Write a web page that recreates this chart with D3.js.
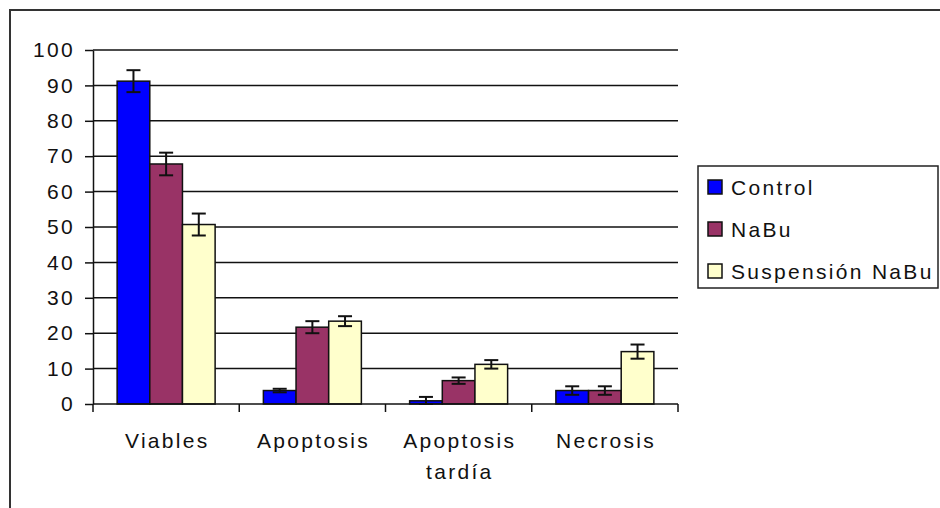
<!DOCTYPE html>
<html>
<head>
<meta charset="utf-8">
<script src="https://cdn.jsdelivr.net/npm/d3@7"></script>
<style>
  html, body { margin: 0; padding: 0; background: #fff; }
  svg { display: block; }
  text { font-family: "Liberation Sans", Arial, sans-serif; fill: #111; }
</style>
</head>
<body>
<svg id="chart" width="940" height="508"></svg>
<script>
// Categories (x axis), each label may wrap onto several lines
const categories = ["Viables", "Apoptosis", "Apoptosis tardía", "Necrosis"];
const categoryLines = [["Viables"], ["Apoptosis"], ["Apoptosis", "tardía"], ["Necrosis"]];

// Series names and colours
const seriesNames = ["Control", "NaBu", "Suspensión NaBu"];
const seriesColors = ["#0000ff", "#993366", "#ffffcc"];

// Mean percentages per series, in category order
const controlValues = [91.2, 3.8, 0.9, 3.8];
const nabuValues = [67.8, 21.7, 6.6, 3.8];
const suspensionValues = [50.7, 23.4, 11.2, 14.8];

// Error (± half-range) per series, in category order
const controlErrors = [3.1, 0.5, 1.1, 1.2];
const nabuErrors = [3.2, 1.7, 0.9, 1.2];
const suspensionErrors = [3.1, 1.4, 1.2, 2.0];

// Y axis ticks
const yTicks = [0, 10, 20, 30, 40, 50, 60, 70, 80, 90, 100];

const seriesValues = [controlValues, nabuValues, suspensionValues];
const seriesErrors = [controlErrors, nabuErrors, suspensionErrors];

const FONT_SIZE = 21;
const LETTER_SPACING = 2.3;

const svg = d3.select("#chart");

// Outer chart frame
svg.append("rect")
  .attr("x", 10).attr("y", 10)
  .attr("width", 940).attr("height", 510)
  .attr("fill", "#fff")
  .attr("stroke", "#333").attr("stroke-width", 2);

const plot = { left: 93, right: 678, top: 50, bottom: 404 };

const y = d3.scaleLinear().domain([0, 100]).range([plot.bottom, plot.top]);
const x0 = d3.scaleBand().domain(categories).range([plot.left, plot.right]).padding(0);
const bw = x0.bandwidth();
const x1 = d3.scaleBand().domain(seriesNames).range([bw * 0.165, bw * 0.835]).padding(0);

// Horizontal gridlines
svg.append("g")
  .selectAll("line")
  .data(yTicks.filter(d => d > 0))
  .join("line")
  .attr("x1", plot.left).attr("x2", plot.right)
  .attr("y1", d => y(d)).attr("y2", d => y(d))
  .attr("stroke", "#111").attr("stroke-width", 1.5);

// Y axis (letter-spacing adds trailing space, so padding is reduced to compensate)
const yAxis = svg.append("g")
  .attr("transform", `translate(${plot.left},0)`)
  .call(d3.axisLeft(y).tickValues(yTicks).tickSize(8).tickSizeOuter(0).tickPadding(10));
yAxis.select(".domain").attr("stroke", "#111").attr("stroke-width", 1.5);
yAxis.selectAll(".tick line").attr("stroke", "#111").attr("stroke-width", 1.5);
yAxis.selectAll(".tick text")
  .attr("font-size", FONT_SIZE).attr("letter-spacing", LETTER_SPACING)
  .style("font-family", '"Liberation Sans", Arial, sans-serif')
  .attr("fill", "#111");

// Bars
const groups = svg.append("g")
  .selectAll("g")
  .data(categories)
  .join("g")
  .attr("transform", d => `translate(${x0(d)},0)`);

groups.each(function (cat, ci) {
  const g = d3.select(this);
  seriesNames.forEach((s, si) => {
    const v = seriesValues[si][ci];
    g.append("rect")
      .attr("x", x1(s)).attr("width", x1.bandwidth())
      .attr("y", y(v)).attr("height", y(0) - y(v))
      .attr("fill", seriesColors[si])
      .attr("stroke", "#111").attr("stroke-width", 1.5);
  });
});

// Error bars
groups.each(function (cat, ci) {
  const g = d3.select(this);
  seriesNames.forEach((s, si) => {
    const v = seriesValues[si][ci];
    const e = seriesErrors[si][ci];
    const cx = x1(s) + x1.bandwidth() / 2;
    const lo = y(Math.max(0, v - e));
    const hi = y(v + e);
    const eg = g.append("g").attr("stroke", "#111").attr("stroke-width", 2);
    eg.append("line").attr("x1", cx).attr("x2", cx).attr("y1", hi).attr("y2", lo);
    eg.append("line").attr("x1", cx - 7).attr("x2", cx + 7).attr("y1", hi).attr("y2", hi);
    eg.append("line").attr("x1", cx - 7).attr("x2", cx + 7).attr("y1", lo).attr("y2", lo);
  });
});

// X axis line with boundary ticks
const xAxis = svg.append("g").attr("transform", `translate(0,${plot.bottom})`);
xAxis.append("line")
  .attr("x1", plot.left).attr("x2", plot.right)
  .attr("stroke", "#111").attr("stroke-width", 1.5);
const boundaries = categories.map(c => x0(c)).concat([plot.right]);
xAxis.selectAll("line.tick")
  .data(boundaries)
  .join("line")
  .attr("class", "tick")
  .attr("x1", d => d).attr("x2", d => d)
  .attr("y1", 0).attr("y2", 8)
  .attr("stroke", "#111").attr("stroke-width", 1.5);

// Category labels (shifted by half the trailing letter-spacing so they sit centred)
categories.forEach((c, ci) => {
  const cx = x0(c) + bw / 2 + LETTER_SPACING / 2;
  const t = svg.append("text")
    .attr("x", cx)
    .attr("y", 448)
    .attr("text-anchor", "middle")
    .attr("font-size", FONT_SIZE)
    .attr("letter-spacing", LETTER_SPACING);
  categoryLines[ci].forEach((line, li) => {
    t.append("tspan")
      .attr("x", cx)
      .attr("dy", li === 0 ? 0 : 31)
      .text(line);
  });
});

// Legend
const legend = svg.append("g");
legend.append("rect")
  .attr("x", 698).attr("y", 166)
  .attr("width", 240).attr("height", 122)
  .attr("fill", "#fff")
  .attr("stroke", "#222").attr("stroke-width", 1.5);

seriesNames.forEach((s, si) => {
  const cy = 187 + si * 42;
  legend.append("rect")
    .attr("x", 708).attr("y", cy - 7)
    .attr("width", 14).attr("height", 14)
    .attr("fill", seriesColors[si])
    .attr("stroke", "#111").attr("stroke-width", 1.5);
  legend.append("text")
    .attr("x", 731).attr("y", cy + 8)
    .attr("font-size", FONT_SIZE)
    .attr("letter-spacing", LETTER_SPACING)
    .text(s);
});
</script>
</body>
</html>
